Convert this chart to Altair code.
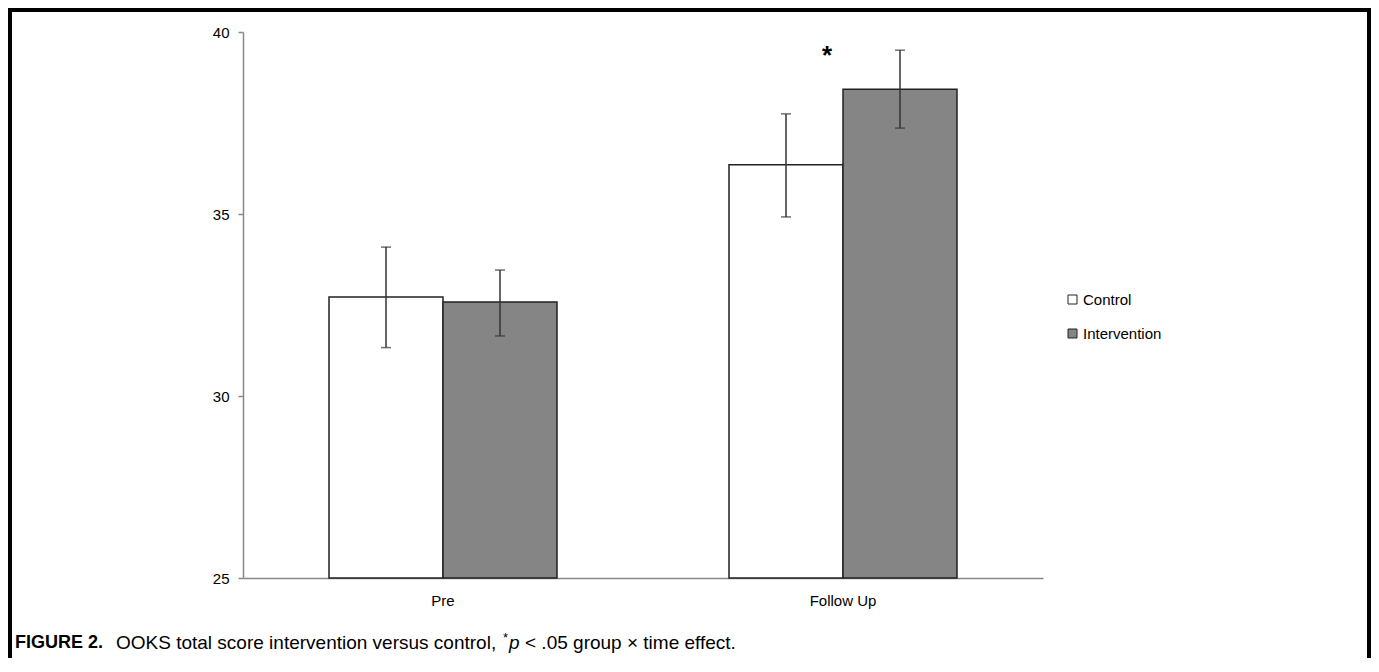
import altair as alt
import pandas as pd

# ---- data ----
times = ["Pre", "Pre", "Follow Up", "Follow Up"]
groups = ["Control", "Intervention", "Control", "Intervention"]
means = [32.72, 32.58, 36.35, 38.43]
lower = [31.33, 31.65, 34.92, 37.36]
upper = [34.09, 33.46, 37.75, 39.50]

time_order = ["Pre", "Follow Up"]
group_order = ["Control", "Intervention"]
y_ticks = [25, 30, 35, 40]
y_min, y_max = 25, 40

star_time = ["Follow Up"]
star_value = [39.34]
star_text = ["*"]

df = pd.DataFrame({"time": times, "group": groups, "mean": means,
                   "lo": lower, "hi": upper})
star_df = pd.DataFrame({"time": star_time, "v": star_value, "t": star_text})
one = pd.DataFrame({"a": [0]})

FONT = "Liberation Sans"

x_enc = alt.X("time:N", sort=time_order,
              scale=alt.Scale(paddingInner=0.43, paddingOuter=0.215),
              axis=alt.Axis(title=None, labelAngle=0, labelFontSize=15,
                            labelColor="black", ticks=False,
                            domainColor="#888888", domainWidth=1.5,
                            labelPadding=15))
xoff = alt.XOffset("group:N", sort=group_order, scale=alt.Scale(paddingInner=0, paddingOuter=0))
y_scale = alt.Scale(domain=[y_min, y_max], nice=False, zero=False)
y_axis = alt.Axis(title=None, values=y_ticks, grid=False, labelFontSize=15,
                  labelColor="black", tickColor="#888888", tickSize=5,
                  domainColor="#888888", domainWidth=1.5, tickWidth=1.5,
                  labelPadding=9)

bars = alt.Chart(df).mark_bar(stroke="#222222", strokeWidth=1.5).encode(
    x=x_enc,
    xOffset=xoff,
    y=alt.Y("mean:Q", scale=y_scale, axis=y_axis),
    y2=alt.datum(y_min),
    fill=alt.Fill("group:N", sort=group_order,
                  scale=alt.Scale(domain=group_order, range=["white", "#858585"]),
                  legend=alt.Legend(orient="none", legendX=822, legendY=260,
                                    title=None, symbolType="square",
                                    symbolSize=81, symbolStrokeColor="#222222",
                                    symbolStrokeWidth=1, labelFontSize=15,
                                    labelColor="black", rowPadding=18,
                                    labelOffset=3)),
)

rules = alt.Chart(df).mark_rule(color="#333333", strokeWidth=1.5).encode(
    x=alt.X("time:N", sort=time_order),
    xOffset=alt.XOffset("group:N", sort=group_order),
    y=alt.Y("lo:Q"),
    y2="hi:Q",
)

caps_lo = alt.Chart(df).mark_tick(color="#333333", size=10, thickness=1.5).encode(
    x=alt.X("time:N", sort=time_order),
    xOffset=alt.XOffset("group:N", sort=group_order),
    y=alt.Y("lo:Q"),
)
caps_hi = alt.Chart(df).mark_tick(color="#333333", size=10, thickness=1.5).encode(
    x=alt.X("time:N", sort=time_order),
    xOffset=alt.XOffset("group:N", sort=group_order),
    y=alt.Y("hi:Q"),
)

star = alt.Chart(star_df).mark_text(fontSize=26, fontWeight="bold", dx=-16,
                                    baseline="middle", color="black").encode(
    x=alt.X("time:N", sort=time_order),
    y=alt.Y("v:Q"),
    text="t:N",
)

CAP_Y = 611
FS = 19

def cap(text, x, **kw):
    props = dict(align="left", baseline="middle", fontSize=FS, color="black", font=FONT)
    props.update(kw)
    return alt.Chart(one).mark_text(**props).encode(
        x=alt.value(x), y=alt.value(CAP_Y), text=alt.value(text))

cap_a = cap("FIGURE 2.", -228, fontWeight="bold", fontSize=18)
cap_b = cap("OOKS total score intervention versus control,", -127)
cap_c = cap("*", 260, fontSize=13, dy=-5)
cap_d = cap("p", 266, fontStyle="italic")
cap_e = cap("< .05 group \u00d7 time effect.", 282)

frame = alt.Chart(one).mark_rect(fill="transparent", stroke="black", strokeWidth=4).encode(
    x=alt.value(-233), x2=alt.value(1126), y=alt.value(-22), y2=alt.value(800))

chart = alt.layer(
    bars, rules, caps_lo, caps_hi, star,
    cap_a, cap_b, cap_c, cap_d, cap_e, frame,
).properties(
    width=800, height=546,
    autosize=alt.AutoSizeParams(type="none"),
    padding={"left": 235, "top": 24, "right": 328, "bottom": 80},
).configure(font=FONT).configure_view(strokeWidth=0)

chart.save("out.html", embed_options={"renderer": "svg", "actions": False})
